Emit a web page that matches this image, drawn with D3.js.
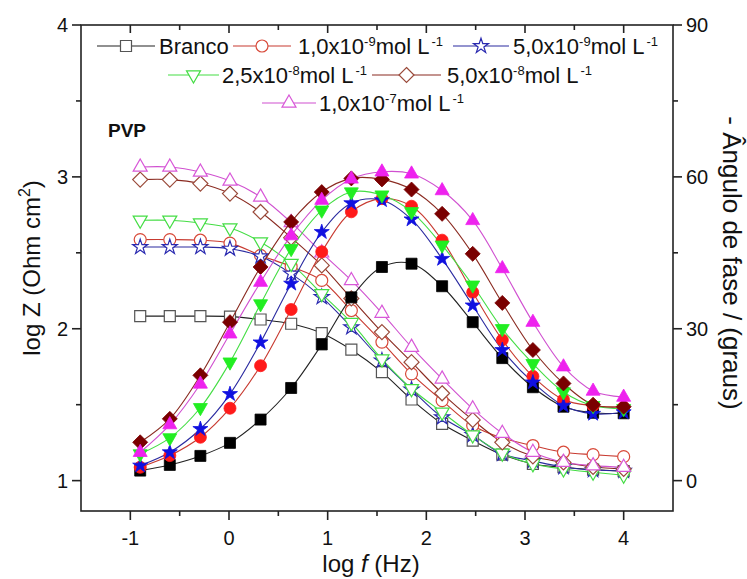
<!DOCTYPE html>
<html><head><meta charset="utf-8">
<script src="https://cdn.jsdelivr.net/npm/d3@7"></script>
<style>
body{margin:0;background:#fff;}
svg{display:block;font-family:"Liberation Sans",Arial,sans-serif;}
</style></head>
<body>
<svg id="c" width="747" height="579"></svg>
<script>
// ---------- data ----------
const logF = [-0.9,-0.6,-0.29,0.01,0.32,0.63,0.94,1.24,1.55,1.85,2.16,2.47,2.77,3.08,3.39,3.69,4.0];

const seriesNames = ["Branco","1,0x10|-9|mol L|-1","5,0x10|-9|mol L|-1","2,5x10|-8|mol L|-1","5,0x10|-8|mol L|-1","1,0x10|-7|mol L|-1"];

const logZBranco = [2.083,2.083,2.083,2.08,2.061,2.033,1.971,1.862,1.714,1.534,1.374,1.264,1.171,1.11,1.088,1.073,1.062];
const logZ1e9   = [2.587,2.587,2.583,2.564,2.483,2.41,2.318,2.12,1.912,1.703,1.527,1.363,1.28,1.231,1.187,1.171,1.158];
const logZ5e9   = [2.538,2.538,2.538,2.527,2.477,2.363,2.208,2.01,1.79,1.6,1.417,1.30,1.176,1.13,1.09,1.07,1.064];
const logZ25e8  = [2.714,2.714,2.696,2.663,2.571,2.429,2.23,2.04,1.80,1.605,1.45,1.30,1.18,1.11,1.077,1.055,1.035];
const logZ5e8   = [2.982,2.982,2.956,2.890,2.769,2.60,2.417,2.20,1.978,1.78,1.575,1.40,1.252,1.16,1.12,1.09,1.077];
const logZ1e7   = [3.065,3.065,3.032,2.973,2.868,2.70,2.50,2.318,2.103,1.879,1.670,1.473,1.312,1.187,1.121,1.099,1.088];

const phaseBranco = [1.98,3.1,4.88,7.46,12.06,18.3,26.9,36.2,42.2,42.85,38.4,31.3,24.2,18.45,14.6,13.4,13.3];
const phase1e9    = [2.64,4.94,8.57,14.3,22.7,33.8,45.2,53.1,55.7,54.2,47.5,37.2,27.8,20.6,16.0,14.8,14.5];
const phase5e9    = [2.97,5.6,10.2,17.1,27.3,38.9,49.1,54.8,55.4,51.6,43.8,34.6,25.8,19.4,14.8,13.2,13.5];
const phase25e8   = [5.27,8.44,14.4,23.4,34.9,45.8,53.4,57.0,56.4,53.1,46.5,38.6,30.0,23.1,17.5,14.8,14.2];
const phase5e8    = [7.57,12.2,20.8,31.3,42.2,51.1,57.0,59.7,59.5,57.5,52.7,44.8,35.1,25.8,19.2,15.0,14.6];
const phase1e7    = [5.6,11.07,19.1,29.0,39.2,48.4,55.4,59.6,61.0,60.6,57.3,51.4,41.9,31.3,22.5,17.7,16.5];

const xTicks = [-1,0,1,2,3,4];
const xMinor = [-0.5,0.5,1.5,2.5,3.5];
const yLTicks = [1,2,3,4];
const yLMinor = [1.5,2.5,3.5];
const yRTicks = [0,30,60,90];
const yRMinor = [15,45,75];

// ---------- styles ----------
const markerColors = ["#000000","#ff1a1a","#1010e0","#22ee22","#7a0000","#ee22ee"];
const openColors   = ["#555555","#d84a3a","#2a2ab0","#44dd44","#9a4a3a","#d858d8"];
const lineColors   = ["#222222","#c83a30","#2a2aa0","#44dd44","#8a2a20","#d050d0"];
const shapes = ["square","circle","star","down","diamond","up"];

const W = 747, H = 579;
const L = 81, R = 673, T = 25, B = 511;
const svg = d3.select("#c");

const x = d3.scaleLinear([-1.5,4.5],[L,R]);
const yL = d3.scaleLinear([0.8,4],[B,T]);
const yR = d3.scaleLinear([-6,90],[B,T]);

function markerPath(shape){
  if(shape==="square") return "M-5.5,-5.5H5.5V5.5H-5.5Z";
  if(shape==="circle") return "M6,0A6,6,0,1,1,-6,0A6,6,0,1,1,6,0Z";
  if(shape==="star") return d3.symbol(d3.symbolStar,70)();
  if(shape==="up") return "M0,-8L7,4.2L-7,4.2Z";
  if(shape==="down") return "M0,8L7,-4.2L-7,-4.2Z";
  if(shape==="diamond") return "M0,-7.5L7.5,0L0,7.5L-7.5,0Z";
}

// ---------- axes ----------
const ax = svg.append("g").attr("stroke","#222").attr("stroke-width",1.6).attr("fill","none");
ax.append("rect").attr("x",L).attr("y",T).attr("width",R-L).attr("height",B-T);
// bottom
xTicks.forEach(v=>ax.append("line").attr("x1",x(v)).attr("x2",x(v)).attr("y1",B).attr("y2",B+9));
xMinor.forEach(v=>ax.append("line").attr("x1",x(v)).attr("x2",x(v)).attr("y1",B).attr("y2",B+5));
// top (inward)
xTicks.forEach(v=>ax.append("line").attr("x1",x(v)).attr("x2",x(v)).attr("y1",T).attr("y2",T+8));
xMinor.forEach(v=>ax.append("line").attr("x1",x(v)).attr("x2",x(v)).attr("y1",T).attr("y2",T+5));
// left
yLTicks.forEach(v=>ax.append("line").attr("y1",yL(v)).attr("y2",yL(v)).attr("x1",L).attr("x2",L-9));
yLMinor.forEach(v=>ax.append("line").attr("y1",yL(v)).attr("y2",yL(v)).attr("x1",L).attr("x2",L-5));
// right
yRTicks.forEach(v=>ax.append("line").attr("y1",yR(v)).attr("y2",yR(v)).attr("x1",R).attr("x2",R+9));
yRMinor.forEach(v=>ax.append("line").attr("y1",yR(v)).attr("y2",yR(v)).attr("x1",R).attr("x2",R+5));

const tl = svg.append("g").attr("fill","#111").attr("font-size",20);
xTicks.forEach(v=>tl.append("text").attr("x",x(v)).attr("y",B+34).attr("text-anchor","middle").text(v<0?"-"+Math.abs(v):v));
yLTicks.forEach(v=>tl.append("text").attr("x",L-13).attr("y",yL(v)+7).attr("text-anchor","end").text(v));
yRTicks.forEach(v=>tl.append("text").attr("x",R+13).attr("y",yR(v)+7).attr("text-anchor","start").text(v));

// titles
const xt = svg.append("text").attr("x",371).attr("y",572).attr("text-anchor","middle").attr("font-size",24).attr("fill","#111");
xt.append("tspan").text("log ");
xt.append("tspan").attr("font-style","italic").text("f");
xt.append("tspan").text(" (Hz)");

const yt = svg.append("text").attr("transform",`translate(40,268) rotate(-90)`).attr("text-anchor","middle").attr("font-size",24).attr("fill","#111");
yt.append("tspan").text("log Z (Ohm cm");
yt.append("tspan").attr("font-size",16).attr("dy",-10).text("2");
yt.append("tspan").attr("dy",10).text(")");

svg.append("text").attr("transform",`translate(723,263) rotate(90)`).attr("text-anchor","middle").attr("font-size",26).attr("fill","#111").text("- Ângulo de fase / (graus)");

// ---------- series ----------
const logZ = [logZBranco,logZ1e9,logZ5e9,logZ25e8,logZ5e8,logZ1e7];
const phase = [phaseBranco,phase1e9,phase5e9,phase25e8,phase5e8,phase1e7];

const plot = svg.append("g");
const lineL = d3.line().x((d,i)=>x(logF[i])).y(d=>yL(d)).curve(d3.curveCatmullRom);
const lineR = d3.line().x((d,i)=>x(logF[i])).y(d=>yR(d)).curve(d3.curveCatmullRom);

logZ.forEach((s,k)=>{
  plot.append("path").attr("d",lineL(s)).attr("fill","none").attr("stroke",lineColors[k]).attr("stroke-width",1.1);
});
logZ.forEach((s,k)=>{
  plot.selectAll(null).data(s).enter().append("path")
    .attr("d",markerPath(shapes[k]))
    .attr("transform",(d,i)=>`translate(${x(logF[i])},${yL(d)})`)
    .attr("fill","#fff").attr("stroke",openColors[k]).attr("stroke-width",1.2);
});
phase.forEach((s,k)=>{
  plot.append("path").attr("d",lineR(s)).attr("fill","none").attr("stroke",lineColors[k]).attr("stroke-width",1.1);
});
phase.forEach((s,k)=>{
  plot.selectAll(null).data(s).enter().append("path")
    .attr("d",markerPath(shapes[k]))
    .attr("transform",(d,i)=>`translate(${x(logF[i])},${yR(d)})`)
    .attr("fill",markerColors[k]).attr("stroke",markerColors[k]).attr("stroke-width",0.8);
});

// ---------- legend ----------
// [line start, line end, text x, y]
const legendPos = [[97,155,159,46],[233,291,298,46],[453,509,513,46],[168,219,222,75],[372,441,447,75],[262,316,319,103]];
const leg = svg.append("g").attr("font-size",22).attr("fill","#111");
seriesNames.forEach((name,k)=>{
  const [x1,x2,tx,ly] = legendPos[k];
  leg.append("line").attr("x1",x1).attr("x2",x2).attr("y1",ly).attr("y2",ly).attr("stroke",lineColors[k]).attr("stroke-width",1.2);
  leg.append("path").attr("d",markerPath(shapes[k])).attr("transform",`translate(${(x1+x2)/2},${ly})`).attr("fill","#fff").attr("stroke",openColors[k]).attr("stroke-width",1.2);
  const t = leg.append("text").attr("x",tx).attr("y",ly+8);
  const parts = name.split("|");
  parts.forEach((p,j)=>{
    if(j%2===1) t.append("tspan").attr("font-size",13).attr("dy",-8).attr("dx",j===3?2:0).text(p);
    else t.append("tspan").attr("dy",j===0?0:8).text(p);
  });
});
svg.append("text").attr("x",108).attr("y",137).attr("font-size",19).attr("font-weight","bold").attr("fill","#111").text("PVP");
</script>
</body></html>
